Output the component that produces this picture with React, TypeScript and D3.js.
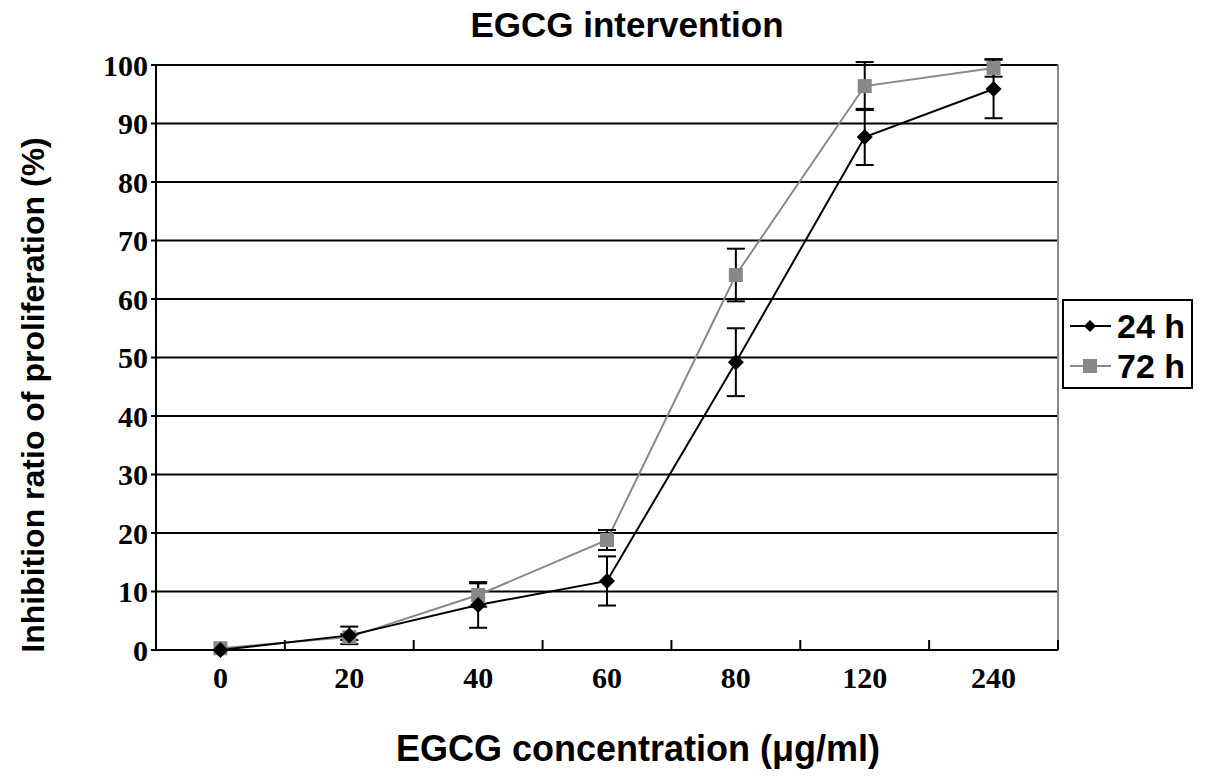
import React from "react";
import * as d3 from "d3";

const categories = ["0", "20", "40", "60", "80", "120", "240"];
const series24 = [0, 2.5, 7.7, 11.8, 49.2, 87.7, 95.9];
const err24 = [0, 1.5, 3.9, 4.2, 5.8, 4.8, 5.0];
const series72 = [0.3, 2.2, 9.4, 18.8, 64.1, 96.4, 99.5];
const err72 = [0, 0.5, 2.0, 1.7, 4.5, 4.1, 1.5];
const yTicks = [0, 10, 20, 30, 40, 50, 60, 70, 80, 90, 100];

const W = 1205, H = 778;
const left = 156, right = 1058, top = 65, bottom = 650;

export default function App() {
  const x = d3.scaleBand<string>().domain(categories).range([left, right]).padding(0);
  const y = d3.scaleLinear().domain([0, 100]).range([bottom, top]);
  const cx = (c: string) => (x(c) as number) + x.bandwidth() / 2;
  const line = d3.line<number>().x((_, i) => cx(categories[i])).y(d => y(d));
  const bounds = [...categories.map(c => x(c) as number), right];
  const serif = "'Liberation Serif', 'DejaVu Serif', serif";
  const sans = "'Liberation Sans', Arial, sans-serif";
  const diamond = "M0,-8L8,0L0,8L-8,0Z";
  const cap = 9;

  const errBars = (vals: number[], errs: number[], color: string, key: string) =>
    vals.map((v, i) => errs[i] > 0 ? (
      <g key={key + i} stroke={color} strokeWidth={2}>
        <line x1={cx(categories[i])} x2={cx(categories[i])} y1={y(v + errs[i])} y2={y(v - errs[i])} />
        <line x1={cx(categories[i]) - cap} x2={cx(categories[i]) + cap} y1={y(v + errs[i])} y2={y(v + errs[i])} />
        <line x1={cx(categories[i]) - cap} x2={cx(categories[i]) + cap} y1={y(v - errs[i])} y2={y(v - errs[i])} />
      </g>
    ) : null);

  return (
    <svg width={W} height={H} style={{ position: "absolute", left: 0, top: 0, background: "#fff" }}>
      <rect x={0} y={0} width={W} height={H} fill="#fff" />
      {yTicks.filter(t => t > 0).map(t => (
        <line key={"g" + t} x1={left} x2={right} y1={y(t)} y2={y(t)} stroke="#000" strokeWidth={2} />
      ))}
      <line x1={right} x2={right} y1={top} y2={bottom} stroke="#888" strokeWidth={2} />
      <line x1={left} x2={left} y1={top} y2={bottom} stroke="#000" strokeWidth={2} />
      <line x1={left} x2={right} y1={bottom} y2={bottom} stroke="#000" strokeWidth={2} />
      {yTicks.map(t => (
        <g key={"yt" + t}>
          <line x1={left - 5} x2={left} y1={y(t)} y2={y(t)} stroke="#000" strokeWidth={2} />
          <text x={left - 8} y={y(t)} dy="0.35em" textAnchor="end" fontFamily={serif} fontSize={30} fontWeight="bold" fill="#000">{t}</text>
        </g>
      ))}
      {bounds.map((b, i) => (
        <line key={"xt" + i} x1={b} x2={b} y1={bottom} y2={bottom - 10} stroke="#000" strokeWidth={2} />
      ))}
      {categories.map(c => (
        <text key={"xl" + c} x={cx(c)} y={bottom + 38} textAnchor="middle" fontFamily={serif} fontSize={30} fontWeight="bold" fill="#000">{c}</text>
      ))}
      <path d={line(series72) || ""} fill="none" stroke="#888" strokeWidth={2} />
      <path d={line(series24) || ""} fill="none" stroke="#000" strokeWidth={2} />
      {errBars(series72, err72, "#000", "e72")}
      {errBars(series24, err24, "#000", "e24")}
      {series72.map((v, i) => (
        <rect key={"m72" + i} x={cx(categories[i]) - 7} y={y(v) - 7} width={14} height={14} fill="#888" />
      ))}
      {series24.map((v, i) => (
        <path key={"m24" + i} d={diamond} transform={`translate(${cx(categories[i])},${y(v)})`} fill="#000" />
      ))}
      <rect x={1063} y={300} width={129} height={88} fill="#fff" stroke="#000" strokeWidth={2} />
      <line x1={1070} x2={1111} y1={326} y2={326} stroke="#000" strokeWidth={2} />
      <path d="M0,-6L6,0L0,6L-6,0Z" transform="translate(1090,326)" fill="#000" />
      <text x={1117} y={338} fontFamily={sans} fontWeight="bold" fontSize={34} fill="#000">24 h</text>
      <line x1={1070} x2={1111} y1={366} y2={366} stroke="#888" strokeWidth={2} />
      <rect x={1083} y={359} width={14} height={14} fill="#888" />
      <text x={1117} y={378} fontFamily={sans} fontWeight="bold" fontSize={34} fill="#000">72 h</text>
      <text x={627} y={37} textAnchor="middle" fontFamily={sans} fontWeight="bold" fontSize={35} fill="#000">EGCG intervention</text>
      <text x={638} y={761} textAnchor="middle" fontFamily={sans} fontWeight="bold" fontSize={36} fill="#000">EGCG concentration (μg/ml)</text>
      <text transform={`translate(44,${395}) rotate(-90)`} textAnchor="middle" fontFamily={sans} fontWeight="bold" fontSize={32} fill="#000">Inhibition ratio of proliferation (%)</text>
    </svg>
  );
}
